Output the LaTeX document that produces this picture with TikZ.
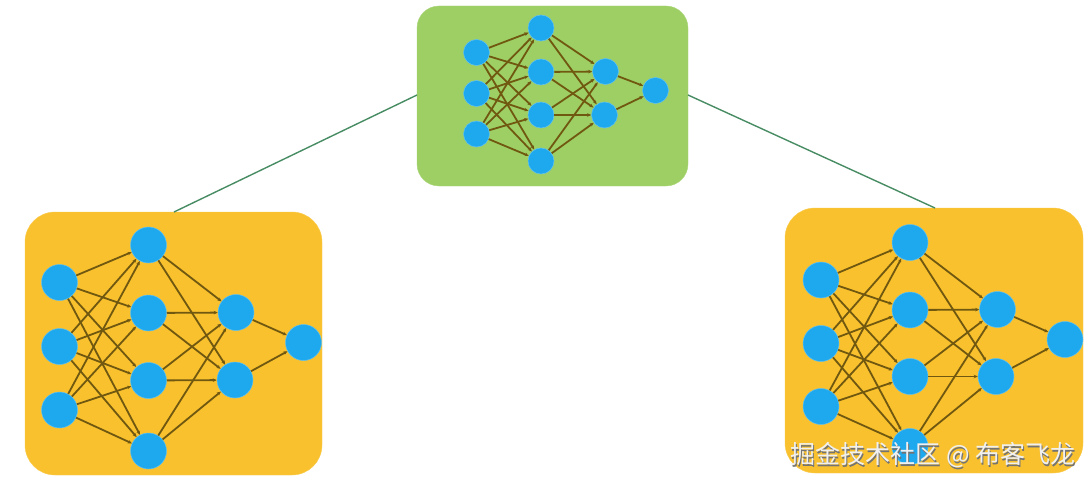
\documentclass[tikz,border=0pt]{standalone}
\usepackage{fontspec}
\newfontfamily\cjk{Noto Sans CJK SC}
\usetikzlibrary{arrows.meta}
\definecolor{boxgreen}{RGB}{157,207,101}
\definecolor{boxorange}{RGB}{249,193,46}
\definecolor{neuron}{RGB}{30,168,238}
\definecolor{edgeol}{RGB}{112,88,16}
\definecolor{linkcol}{RGB}{72,140,100}
\tikzset{
  panelgreen/.style={fill=boxgreen, draw=boxgreen!85!white, rounded corners=22pt},
  panelorange/.style={fill=boxorange, draw=boxorange!85!white, rounded corners=30pt},
  smallneuron/.style={circle, fill=neuron, draw=neuron!70!white, line width=0.5pt, minimum size=26pt, inner sep=0pt},
  bigneuron/.style={circle, fill=neuron, draw=neuron!70!white, line width=0.5pt, minimum size=36pt, inner sep=0pt},
  syn/.style={draw=edgeol, line width=1.8pt, -{Stealth[length=4pt,width=3.5pt]}},
  link/.style={draw=linkcol, line width=1.4pt},
}
\begin{document}
\begin{tikzpicture}[x=1pt,y=-1pt]
\useasboundingbox (0,0) rectangle (1092,484);
% panels
\node[panelgreen, minimum width=271pt, minimum height=180pt, inner sep=0pt] (G) at (552.5,96) {};
\node[panelorange, minimum width=297pt, minimum height=263pt, inner sep=0pt] (L) at (173.5,343.5) {};
\node[panelorange, minimum width=298pt, minimum height=265pt, inner sep=0pt] (R) at (934,340.5) {};
% links between panels
\coordinate (Gl) at (417,95);
\coordinate (Gr) at (688,95);
\coordinate (Lt) at (174,212);
\coordinate (Rt) at (935,208);
\draw[link] (Gl) -- (Lt);
\draw[link] (Gr) -- (Rt);
% green network
\node[smallneuron] (gi1) at (476.5,52.5) {};
\node[smallneuron] (gi2) at (476.5,93.5) {};
\node[smallneuron] (gi3) at (476.5,134) {};
\node[smallneuron] (gh1) at (541,28) {};
\node[smallneuron] (gh2) at (541,72) {};
\node[smallneuron] (gh3) at (541,115) {};
\node[smallneuron] (gh4) at (541,161) {};
\node[smallneuron] (gk1) at (605.5,71.5) {};
\node[smallneuron] (gk2) at (604.5,115) {};
\node[smallneuron] (go) at (655.5,90.5) {};
% left network
\node[bigneuron] (li1) at (59.5,282.5) {};
\node[bigneuron] (li2) at (59.5,346.5) {};
\node[bigneuron] (li3) at (59.5,410) {};
\node[bigneuron] (lh1) at (148.5,245) {};
\node[bigneuron] (lh2) at (148.5,313) {};
\node[bigneuron] (lh3) at (148.5,380.5) {};
\node[bigneuron] (lh4) at (148.5,451) {};
\node[bigneuron] (lk1) at (236,312.5) {};
\node[bigneuron] (lk2) at (235,380) {};
\node[bigneuron] (lo) at (303.5,342.5) {};
% right network
\node[bigneuron] (ri1) at (821,280) {};
\node[bigneuron] (ri2) at (821,343.5) {};
\node[bigneuron] (ri3) at (821,406.5) {};
\node[bigneuron] (rh1) at (910,242.5) {};
\node[bigneuron] (rh2) at (910,310) {};
\node[bigneuron] (rh3) at (910,376.5) {};
\node[bigneuron] (rh4) at (910,446.5) {};
\node[bigneuron] (rk1) at (997.5,309.5) {};
\node[bigneuron] (rk2) at (996,376.5) {};
\node[bigneuron] (ro) at (1065,339.5) {};
% edges
\foreach \p in {g,l,r}{
  \foreach \a in {1,2,3}{
    \foreach \b in {1,2,3,4}{
      \draw[syn] (\p i\a) -- (\p h\b);
    }
  }
  \foreach \a in {1,2,3,4}{
    \foreach \b in {1,2}{
      \draw[syn] (\p h\a) -- (\p k\b);
    }
  }
  \foreach \a in {1,2}{
    \draw[syn] (\p k\a) -- (\p o);
  }
}
% watermark
\node[text=black!55, font=\cjk\fontsize{25}{29}\selectfont, inner sep=0pt] (wms) at (934.2,456.8) {掘金技术社区 @ 布客飞龙};
\node[text=white!94!black, font=\cjk\fontsize{25}{29}\selectfont, inner sep=0pt] (wm) at (933,455.5) {掘金技术社区 @ 布客飞龙};
\end{tikzpicture}
\end{document}
